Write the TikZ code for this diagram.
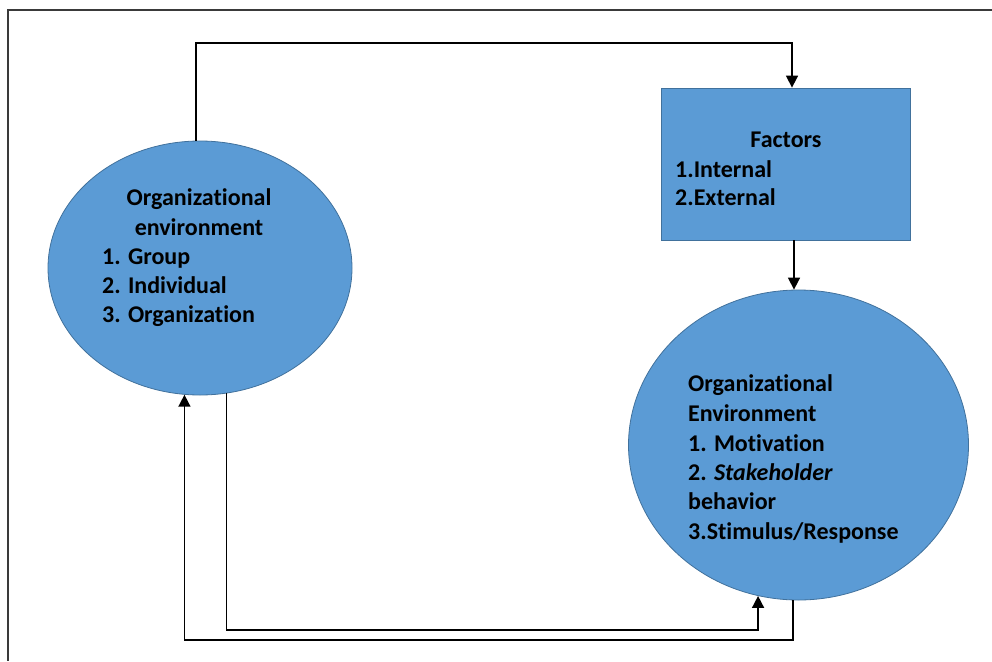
\documentclass[tikz,border=0pt]{standalone}
\usepackage{fontspec}
\setmainfont{Carlito}[Ligatures=NoCommon]
\usetikzlibrary{shapes.geometric,arrows.meta}
\definecolor{shapefill}{HTML}{5B9BD5}
\definecolor{shapeedge}{HTML}{41719C}
\definecolor{framegray}{HTML}{3A3A3A}
\tikzset{
  blob/.style={ellipse,fill=shapefill,draw=shapeedge,line width=0.8pt,inner sep=0pt},
  panel/.style={rectangle,fill=shapefill,draw=shapeedge,line width=0.8pt,inner sep=0pt},
  txt/.style={inner sep=0pt,font=\fontsize{24}{29}\selectfont\bfseries},
  link/.style={draw=black,line width=1.6pt},
  arr/.style={link,-{Triangle[length=12pt,width=12pt]}}
}
\begin{document}
\begin{tikzpicture}[x=1pt,y=-1pt]
\useasboundingbox (0,0) rectangle (992,661);
% page frame (only its top and left edges fall inside the picture)
\draw[framegray,line width=2.6pt] (992,10) -- (8,10) -- (8,661);

% shapes
\node[blob,minimum width=304pt,minimum height=254pt] (lell) at (200,268) {};
\node[panel,minimum width=249pt,minimum height=152pt] (fac) at (785.5,164) {};
\node[blob,minimum width=340pt,minimum height=310pt] (rell) at (798.5,445) {};

% left ellipse text
\node[txt,anchor=base] (l1) at (199,205) {Organizational};
\node[txt,anchor=base] (l2) at (199,235) {environment};
\node[txt,anchor=base west] (l3) at (102,264) {1. Group};
\node[txt,anchor=base west] (l4) at (102,293) {2. Individual};
\node[txt,anchor=base west] (l5) at (102,322) {3. Organization};

% factors box text
\node[txt,anchor=base] (f1) at (786,147) {Factors};
\node[txt,anchor=base west] (f2) at (675,177) {1.Internal};
\node[txt,anchor=base west] (f3) at (675,205) {2.External};

% right ellipse text
\node[txt,anchor=base west] (r1) at (688,391) {Organizational};
\node[txt,anchor=base west] (r2) at (688,421) {Environment};
\node[txt,anchor=base west] (r3) at (688,451) {1. Motivation};
\node[txt,anchor=base west] (r4) at (688,480) {2. \textit{Stakeholder}};
\node[txt,anchor=base west] (r5) at (688,509) {behavior};
\node[txt,anchor=base west] (r6) at (688,539) {3.Stimulus/Response};

% connectors
\coordinate (topline) at (0,43);
\coordinate (lowline) at (0,630);
\coordinate (baseline) at (0,640);
\draw[arr] (lell.north) ++(-4,0) coordinate (lup) -- (lup |- topline) -| ([xshift=6.5pt]fac.north);
\draw[arr] ([xshift=8.5pt]fac.south) -- ([xshift=8.5pt]fac.south |- rell.north);
\draw[arr] (lell.-78) -- (lell.-78 |- lowline) -| (rell.-105);
\draw[arr] (rell.-92) -- (rell.-92 |- baseline) -| (lell.-97);
\end{tikzpicture}
\end{document}
